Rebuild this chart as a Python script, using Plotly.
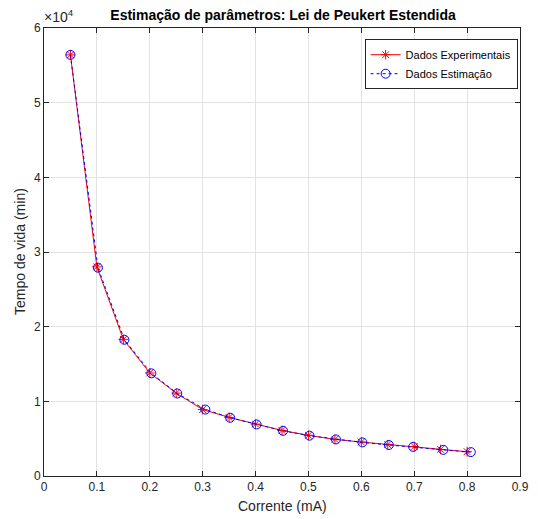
import plotly.graph_objects as go

# dados
corrente_exp = [0.05, 0.10, 0.15, 0.20, 0.25, 0.30, 0.35, 0.40,
                0.45, 0.50, 0.55, 0.60, 0.65, 0.70, 0.75, 0.80]
tempo_exp = [56400, 28000, 18300, 13800, 11100, 8900, 7850, 6950,
             6100, 5450, 4900, 4550, 4200, 3950, 3550, 3250]

corrente_est = [0.05, 0.102, 0.152, 0.203, 0.252, 0.305, 0.352, 0.402,
                0.452, 0.502, 0.552, 0.602, 0.652, 0.698, 0.755, 0.807]
tempo_est = [56400, 27900, 18250, 13750, 11050, 8900, 7800, 6900,
             6050, 5400, 4900, 4500, 4150, 3900, 3500, 3200]

x_ticks = [0, 0.1, 0.2, 0.3, 0.4, 0.5, 0.6, 0.7, 0.8, 0.9]
y_ticks = [0, 10000, 20000, 30000, 40000, 50000, 60000]
y_tick_labels = ["0", "1", "2", "3", "4", "5", "6"]

fonte = "Liberation Sans, Arial, Helvetica, sans-serif"
cinza = "#262626"

fig = go.Figure()
fig.add_trace(go.Scatter(
    x=corrente_exp, y=tempo_exp, name="Dados Experimentais",
    mode="lines+markers",
    line=dict(color="red", width=1),
    marker=dict(symbol="asterisk-open", size=8, color="red",
                line=dict(color="red", width=1)),
))
fig.add_trace(go.Scatter(
    x=corrente_est, y=tempo_est, name="Dados Estimação",
    mode="lines+markers",
    line=dict(color="blue", width=1, dash="dot"),
    marker=dict(symbol="circle-open", size=9, color="blue",
                line=dict(color="blue", width=1)),
))

eixo = dict(
    showline=True, linecolor=cinza, linewidth=1, mirror="ticks",
    ticks="inside", ticklen=5, tickcolor=cinza, automargin=False,
    showgrid=True, gridcolor="#e3e3e3", gridwidth=1, zeroline=False,
    tickfont=dict(size=12, color=cinza, family=fonte),
)

fig.update_xaxes(eixo, range=[0, 0.9], tickvals=x_ticks,
                 ticktext=[str(t) for t in x_ticks])
fig.update_yaxes(eixo, range=[0, 60000], tickvals=y_ticks, ticktext=y_tick_labels)

# rótulos dos eixos e multiplicador
fig.add_annotation(x=0.5, y=0, xref="paper", yref="paper", yanchor="top",
                   yshift=-20, showarrow=False, text="Corrente (mA)",
                   font=dict(size=14, color=cinza, family=fonte))
fig.add_annotation(x=0, y=0.5, xref="paper", yref="paper", xanchor="right",
                   xshift=-14, showarrow=False, text="Tempo de vida (min)",
                   textangle=-90, font=dict(size=14, color=cinza, family=fonte))
fig.add_annotation(x=0, y=1, xref="paper", yref="paper", xanchor="left",
                   yanchor="bottom", xshift=-2, yshift=1, showarrow=False,
                   text="×10<sup>4</sup>",
                   font=dict(size=14, color=cinza, family=fonte))

# a página tem 8px de margem, por isso a figura fica 8px menor
fig.update_layout(
    width=530, height=511,
    paper_bgcolor="white", plot_bgcolor="white",
    margin=dict(l=36, r=18, t=20, b=43, autoexpand=False),
    title=dict(text="<b>Estimação de parâmetros: Lei de Peukert Estendida</b>",
               x=0.519, xanchor="center", y=0.995, yanchor="top",
               font=dict(size=14, color="black", family=fonte)),
    legend=dict(x=0.995, y=0.975, xanchor="right", yanchor="top",
                bgcolor="white", bordercolor=cinza, borderwidth=1,
                font=dict(size=11, color="black", family=fonte),
                tracegroupgap=0, itemwidth=30),
    showlegend=True,
)

fig.write_html("out.html")
